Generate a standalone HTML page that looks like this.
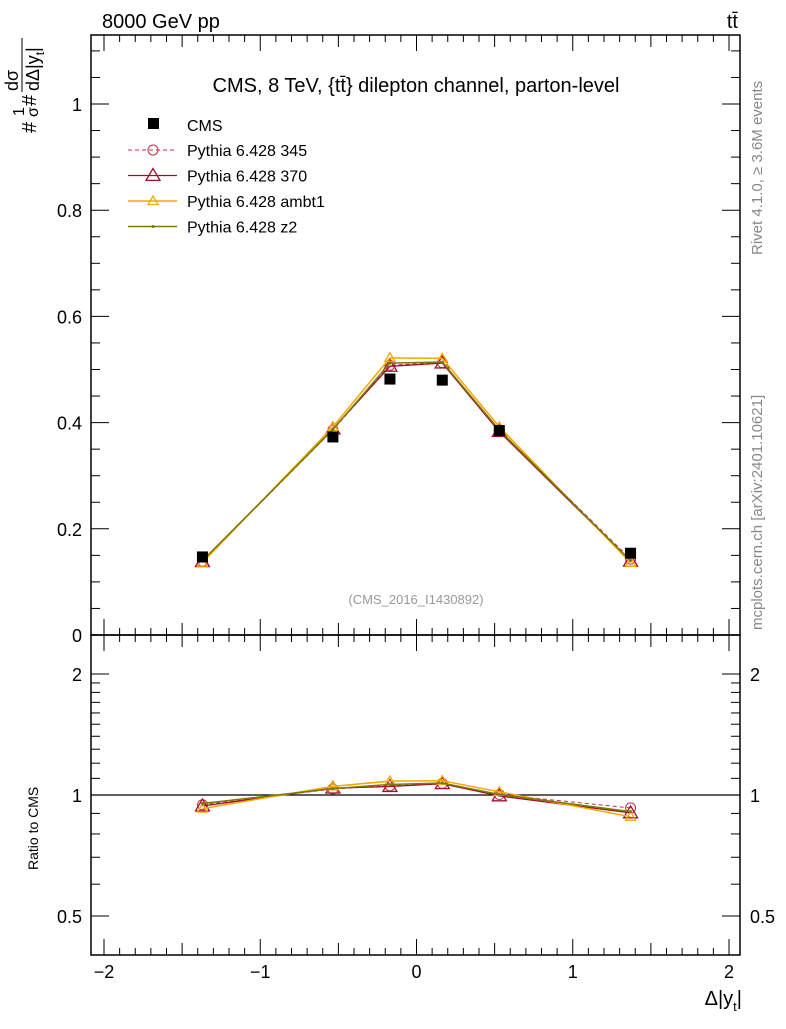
<!DOCTYPE html>
<html><head><meta charset="utf-8"><style>
body{margin:0;background:#fff}
svg text{font-family:"Liberation Sans",sans-serif}
</style></head><body>
<svg id="c" width="786" height="1024" xmlns="http://www.w3.org/2000/svg">
<text x="102" y="28" font-size="20">8000 GeV pp</text>
<text x="738" y="28" font-size="20" text-anchor="end">tt̄</text>
<text x="416" y="92" font-size="20" text-anchor="middle">CMS, 8 TeV, {tt̄} dilepton channel, parton-level</text>
<text x="416" y="604" font-size="13" fill="#999" text-anchor="middle">(CMS_2016_I1430892)</text>
<text transform="translate(762,255) rotate(-90)" font-size="15" fill="#888">Rivet 4.1.0, ≥ 3.6M events</text>
<text transform="translate(762,630) rotate(-90)" font-size="15" fill="#888">mcplots.cern.ch [arXiv:2401.10621]</text>
<g transform="rotate(-90)">
 <text x="-133" y="36" font-size="20">#</text>
 <text x="-116" y="24" font-size="16">1</text>
 <text x="-117" y="38" font-size="16">σ</text>
 <text x="-106" y="36" font-size="20">#</text>
 <text x="-91" y="18" font-size="18">dσ</text>
 <line x1="-92" x2="-38" y1="22" y2="22" stroke="#000" stroke-width="1"/>
 <text x="-91" y="39" font-size="18">dΔ|y<tspan font-size="12" dy="5">t</tspan><tspan dy="-5">|</tspan></text>
</g>
<text transform="translate(38,870) rotate(-90)" font-size="14">Ratio to CMS</text>
<text x="742" y="1005" font-size="20" text-anchor="end">Δ|y<tspan font-size="13" dy="6">t</tspan><tspan dy="-6">|</tspan></text>
<g id="g"></g>
</svg>
<script>
const xCenters=[-1.37,-0.535,-0.17,0.165,0.53,1.37];
const cmsVals=[0.147,0.373,0.482,0.480,0.385,0.154];
const p345=[0.139,0.386,0.508,0.513,0.386,0.143];
const p370=[0.138,0.388,0.506,0.512,0.383,0.139];
const pAmbt1=[0.136,0.392,0.522,0.521,0.392,0.136];
const pZ2=[0.140,0.387,0.512,0.514,0.386,0.140];
const yTicks=[0,0.2,0.4,0.6,0.8,1];
const yTickLabels=["0","0.2","0.4","0.6","0.8","1"];
const xTicks=[-2,-1,0,1,2];
const xTickLabels=["−2","−1","0","1","2"];
const rTicks=[0.5,1,2];
const rTickLabels=["0.5","1","2"];
const L=91,R=740,T=35,M=635,B=955;
const sx=v=>416.5+v*156.25;
const sy=v=>635-v*531;
const sr=v=>795-Math.log2(v)*121;
const NS="http://www.w3.org/2000/svg";
const g=document.getElementById('g');
function mk(t,a,p){const e=document.createElementNS(NS,t);for(const k in a)e.setAttribute(k,a[k]);(p||g).appendChild(e);return e;}
let f1=mk('rect',{x:L,y:T,width:R-L,height:M-T,fill:'none',stroke:'#000','stroke-width':1.5});


let f2=mk('rect',{x:L,y:M,width:R-L,height:B-M,fill:'none',stroke:'#000','stroke-width':1.5});


for(let i=-20;i<=20;i++){const v=i/10,x=sx(v);if(x<L||x>R)continue;const len=i%10==0?16:(i%5==0?12:7);
 [[T,T+len],[M,M-len],[M,M+len],[B,B-len]].forEach(p=>mk('line',{x1:x,x2:x,y1:p[0],y2:p[1],stroke:'#000'}));}
xTicks.forEach((v,i)=>{const t=mk('text',{x:sx(v),y:978,'font-size':18,'text-anchor':'middle'});t.textContent=xTickLabels[i];
 
 });
for(let i=0;i<=22;i++){const v=i*0.05,y=sy(v);if(y<T)continue;const len=i%4==0?18:9;
 mk('line',{x1:L,x2:L+len,y1:y,y2:y,stroke:'#000'});mk('line',{x1:R,x2:R-len,y1:y,y2:y,stroke:'#000'});}
yTicks.forEach((v,i)=>{const t=mk('text',{x:82,y:sy(v)+7,'font-size':18,'text-anchor':'end'});t.textContent=yTickLabels[i];
 
 });
[0.4,0.5,0.6,0.7,0.8,0.9,1,1.1,1.2,1.3,1.4,1.5,1.6,1.7,1.8,1.9,2,2.5].forEach(v=>{const y=sr(v);if(y<M||y>B)return;const len=rTicks.includes(v)?18:9;
 mk('line',{x1:L,x2:L+len,y1:y,y2:y,stroke:'#000'});mk('line',{x1:R,x2:R-len,y1:y,y2:y,stroke:'#000'});});
rTicks.forEach((v,i)=>{[[82,'end'],[750,'start']].forEach(p=>{const t=mk('text',{x:p[0],y:sr(v)+7,'font-size':18,'text-anchor':p[1]});t.textContent=rTickLabels[i];
 
 });});
let ref=mk('line',{x1:L,x2:R,y1:sr(1),y2:sr(1),stroke:'#000','stroke-width':1.2});


const series=[
 {name:'pythia-345',vals:p345,color:'#c0304a',dash:'4,3',marker:'circle',w:1},
 {name:'pythia-370',vals:p370,color:'#a0102a',dash:'',marker:'tri',big:true,w:1.3},
 {name:'pythia-ambt1',vals:pAmbt1,color:'#f5a800',dash:'',marker:'tri',w:1.5},
 {name:'pythia-z2',vals:pZ2,color:'#7a7a00',dash:'',marker:'dot',w:1.5}];
function marker(s,x,y,p){let e;
 if(s.marker=='circle')e=mk('circle',{cx:x,cy:y,r:5,fill:'none',stroke:s.color},p);
 else if(s.marker=='tri'){const r=s.big?7:5;e=mk('polygon',{points:`${x},${y-r} ${x-r},${y+r*0.7} ${x+r},${y+r*0.7}`,fill:'none',stroke:s.color,'stroke-width':1.3},p);}
 else e=mk('circle',{cx:x,cy:y,r:1.5,fill:s.color},p);
 return e;}
series.forEach(s=>{
 const grp=mk('g',{});
 
 
 mk('polyline',{points:xCenters.map((x,i)=>sx(x)+','+sy(s.vals[i])).join(' '),fill:'none',stroke:s.color,'stroke-width':s.w,'stroke-dasharray':s.dash},grp);
 xCenters.forEach((x,i)=>marker(s,sx(x),sy(s.vals[i]),grp));
 const rg=mk('g',{});
 
 
 mk('polyline',{points:xCenters.map((x,i)=>sx(x)+','+sr(s.vals[i]/cmsVals[i])).join(' '),fill:'none',stroke:s.color,'stroke-width':s.w,'stroke-dasharray':s.dash},rg);
 xCenters.forEach((x,i)=>marker(s,sx(x),sr(s.vals[i]/cmsVals[i]),rg));
});
xCenters.forEach((x,i)=>{const r=mk('rect',{x:sx(x)-5.5,y:sy(cmsVals[i])-5.5,width:11,height:11,fill:'#000'});
 
 });
const legNames=['Pythia 6.428 345','Pythia 6.428 370','Pythia 6.428 ambt1','Pythia 6.428 z2'];
let lr=mk('rect',{x:148,y:118,width:11,height:11,fill:'#000'});


let lt=mk('text',{x:187,y:131,'font-size':16});lt.textContent='CMS';


series.forEach((s,i)=>{const y=150+i*25.5;
 mk('line',{x1:128,x2:177,y1:y,y2:y,stroke:s.color,'stroke-width':s.w,'stroke-dasharray':s.dash});
 marker(s,153,y);
 const t=mk('text',{x:187,y:y+6,'font-size':16});t.textContent=legNames[i];
 
 });
</script>
</body></html>
